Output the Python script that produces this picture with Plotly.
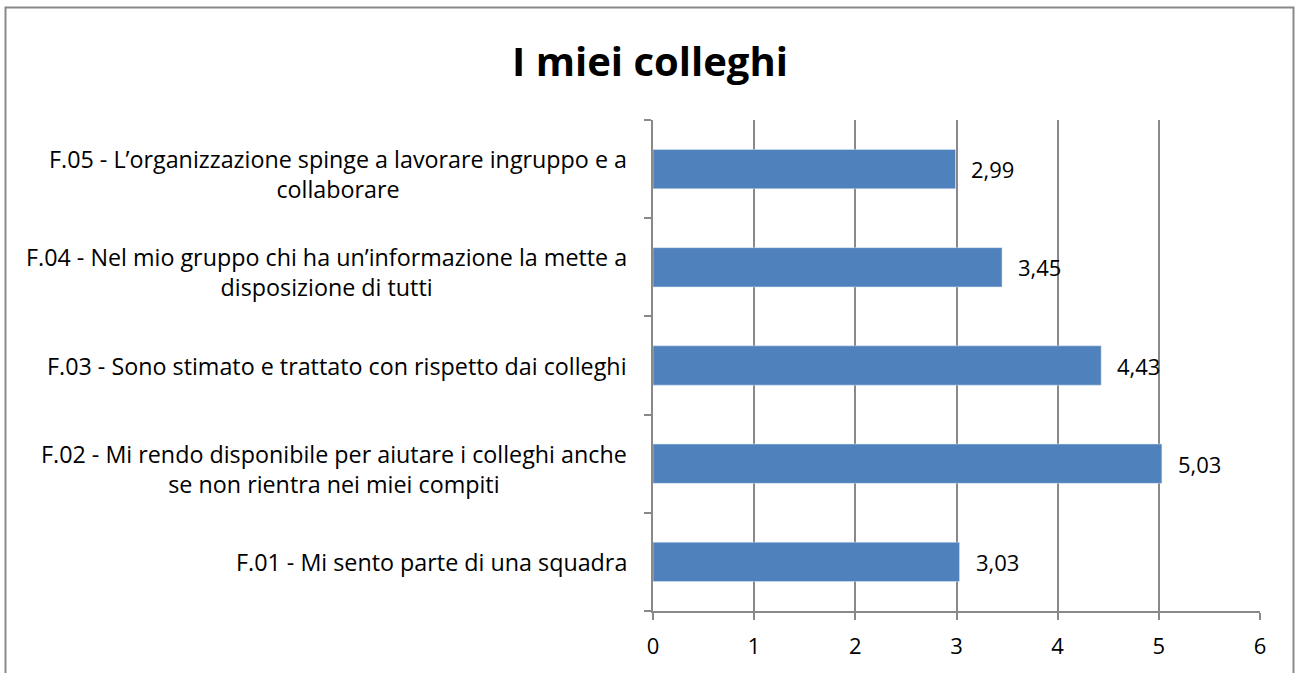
import plotly.graph_objects as go

# data (bottom to top, as drawn)
categories = ["F.01", "F.02", "F.03", "F.04", "F.05"]
labels = [
    "F.01 - Mi sento parte di una squadra",
    "F.02 - Mi rendo disponibile per aiutare i colleghi anche<br>se non rientra nei miei compiti",
    "F.03 - Sono stimato e trattato con rispetto dai colleghi",
    "F.04 - Nel mio gruppo chi ha un\u2019informazione la mette a<br>disposizione di tutti",
    "F.05 - L\u2019organizzazione spinge a lavorare ingruppo e a<br>collaborare",
]
values = [3.03, 5.03, 4.43, 3.45, 2.99]
x_ticks = [0, 1, 2, 3, 4, 5, 6]

FONT = "Open Sans"
bar_color = "#4F81BD"
grid_color = "#898989"

# plot area in pixels
L, R, T, B = 653, 1260, 120, 611
W, H = 1297, 673
pw, ph = R - L, B - T

fig = go.Figure()
fig.add_trace(go.Bar(
    x=values,
    y=categories,
    orientation="h",
    marker=dict(color=bar_color, line=dict(color="#DCE6F2", width=0.5)),
    hoverinfo="x+y",
))

annotations = []
# category labels, lines centred like the original
for cat, lab in zip(categories, labels):
    annotations.append(dict(
        x=0, xref="paper", y=cat, yref="y",
        text=lab, showarrow=False, xanchor="right", yanchor="middle",
        align="center", xshift=-24, yshift=-5 if "<br>" in lab else 0,
        font=dict(family=FONT, size=23.3, color="black"),
    ))
# value labels (decimal comma)
for cat, v in zip(categories, values):
    annotations.append(dict(
        x=v, xref="x", y=cat, yref="y",
        text=f"{v:.2f}".replace(".", ","), showarrow=False,
        xanchor="left", yanchor="middle", xshift=14,
        font=dict(family=FONT, size=22, color="black"),
    ))

fig.update_layout(
    width=W, height=H,
    margin=dict(l=L, r=W - R, t=T, b=H - B),
    paper_bgcolor="white", plot_bgcolor="white",
    bargap=0.6,
    showlegend=False,
    title=dict(text="<b>I miei colleghi</b>", x=650 / W, xanchor="center",
               y=1 - 62 / H, yanchor="middle",
               font=dict(family=FONT, size=40, color="black")),
    annotations=annotations,
    shapes=[dict(type="rect", xref="paper", yref="paper",
                 x0=(5.5 - L) / pw, x1=(1293.5 - L) / pw,
                 y0=(B - 700) / ph, y1=(B - 7.5) / ph,
                 line=dict(color=grid_color, width=2), layer="below")],
)
fig.update_xaxes(
    range=[0, 6], tickvals=x_ticks, showgrid=True, gridcolor=grid_color, gridwidth=1.5,
    showline=True, linecolor=grid_color, linewidth=1.5,
    ticks="outside", ticklen=7, tickcolor=grid_color, tickwidth=1.5, zeroline=False,
    ticklabelstandoff=8,
    tickfont=dict(family=FONT, size=22, color="black"),
)
fig.update_yaxes(
    categoryorder="array", categoryarray=categories,
    showticklabels=False, showline=True, linecolor=grid_color, linewidth=1.5,
    ticks="outside", tickson="boundaries", ticklen=7, tickcolor=grid_color, tickwidth=1.5,
    showgrid=False,
)

fig.write_html("out.html", config={"displayModeBar": False},
               post_script="document.body.style.margin='0';document.body.style.overflow='hidden';")
